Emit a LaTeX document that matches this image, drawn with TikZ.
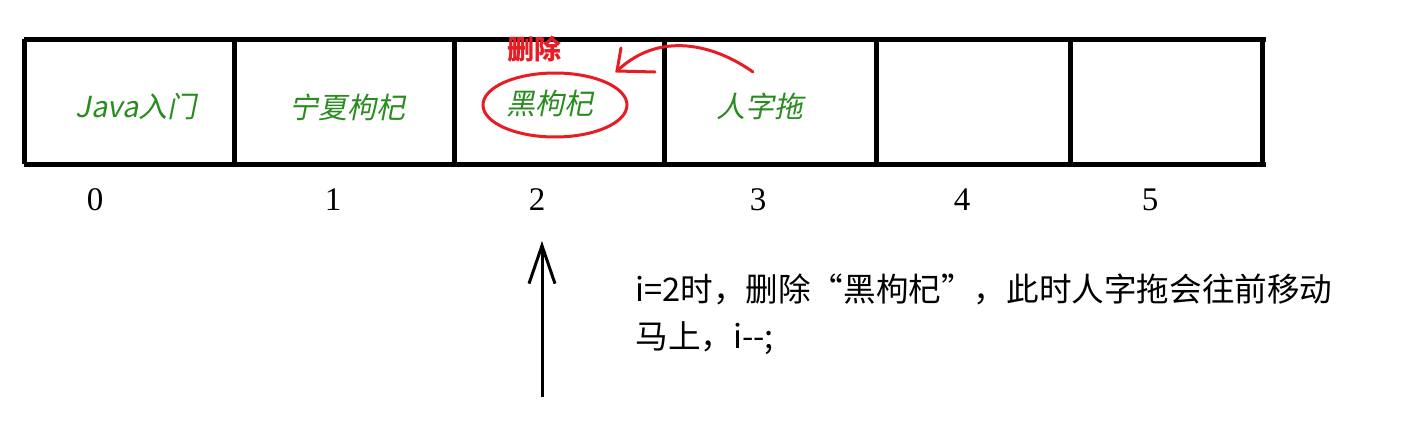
\documentclass[tikz,border=0pt]{standalone}
\usepackage{fontspec}
\setmainfont{Liberation Serif}
\newfontfamily\cjk{Noto Sans CJK SC}
\newfontfamily\cjkit{Noto Sans CJK SC}[FakeSlant=0.2]
\usetikzlibrary{arrows.meta}
\definecolor{inkgreen}{RGB}{40,140,30}
\definecolor{penred}{RGB}{232,28,36}
\tikzstyle{gridline}=[line width=2.5pt]
\tikzstyle{celltext}=[text=inkgreen,font=\cjkit\fontsize{14.5}{17}\selectfont]
\tikzstyle{idxnum}=[anchor=base,font=\fontsize{16.5}{20}\selectfont]
\tikzstyle{redpen}=[draw=penred,line width=1.5pt,line cap=round]
\tikzstyle{note}=[anchor=base west,inner sep=0pt,font=\cjk\fontsize{16.3}{20}\selectfont]
\begin{document}
\begin{tikzpicture}[x=0.5pt,y=-0.5pt]
  \useasboundingbox (0,0) rectangle (1410,423);
  \draw[gridline] (24,39) -- (1266,39) (24,164) -- (1266,164);
  \foreach \x in {24,234,454,664,876,1070,1262}
    \draw[gridline] (\x,39) -- (\x,164);
  \node[celltext] (java) at (136,106) {Java入门};
  \node[celltext] (ningxia) at (347,107) {宁夏枸杞};
  \node[celltext] (hei) at (550,104) {黑枸杞};
  \node[celltext] (tuoxie) at (760,106) {人字拖};
  \foreach \i/\x in {0/95,1/333,2/537,3/758,4/962,5/1150}
    \node[idxnum] (n\i) at (\x,210) {\i};
  \draw[redpen] (555,105) ellipse [x radius=72,y radius=32];
  \node[text=penred,font=\cjk\bfseries\fontsize{13.5}{15}\selectfont] (shanchu) at (534,49) {删除};
  \coordinate (swoopstart) at (753,72);
  \coordinate (swooptip) at (617,71);
  \draw[redpen] (swoopstart) .. controls (715,45) and (660,30) .. (swooptip);
  \draw[redpen] (621,48) -- (swooptip) -- (655,72);
  \coordinate (tail) at (542,397);
  \coordinate (tip) at (542,241);
  \draw[line width=1.5pt,-{Straight Barb[length=19pt,width=13pt]}] (tail) -- (tip);
  \node[note] (line1) at (635,301) {i=2时，删除“黑枸杞”，此时人字拖会往前移动};
  \node[note] (line2) at (635,348) {马上，i-{}-;};
\end{tikzpicture}
\end{document}
